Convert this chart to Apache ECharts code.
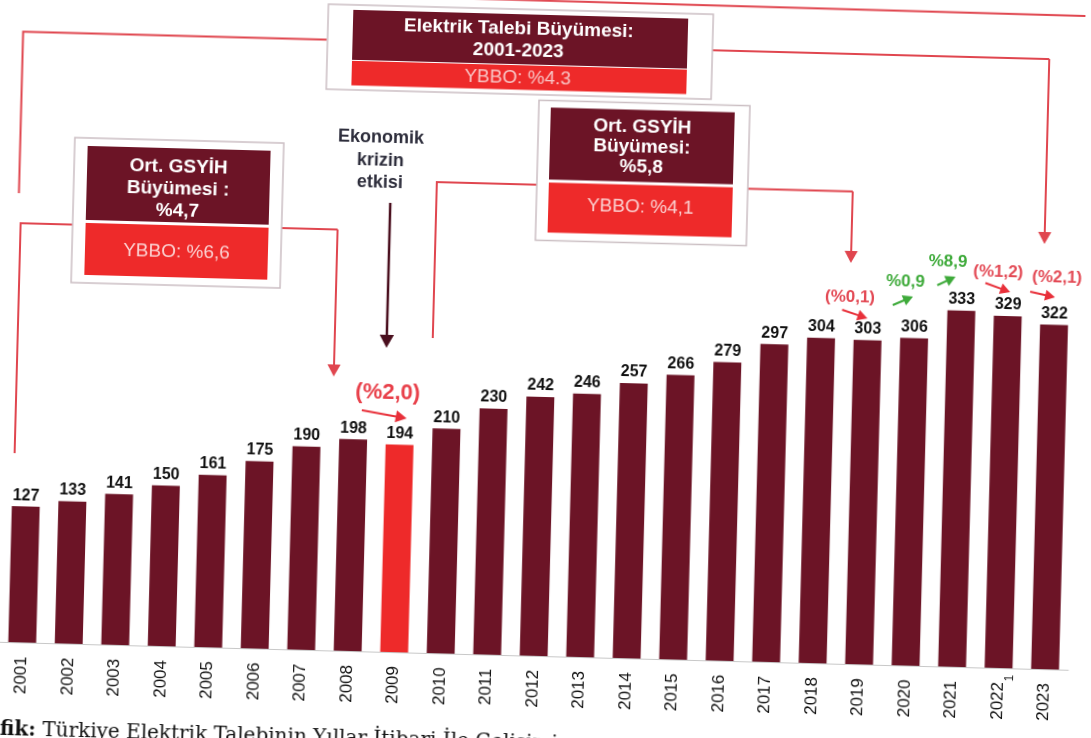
<!DOCTYPE html>
<html>
<head>
<meta charset="utf-8">
<script src="https://cdn.jsdelivr.net/npm/echarts@6/dist/echarts.min.js"></script>
<style>
html,body{margin:0;padding:0;background:#fff;overflow:hidden;width:1091px;height:738px;}
#c{position:absolute;left:-40px;top:-40px;width:1171px;height:818px;transform:rotate(1.5deg);transform-origin:50% 50%;background:#fff;}
</style>
</head>
<body>
<div id="c"></div>
<script>
// ---- data ----
const years = ['2001','2002','2003','2004','2005','2006','2007','2008','2009','2010','2011','2012','2013','2014','2015','2016','2017','2018','2019','2020','2021','2022','2023'];
const demand = [127,133,141,150,161,175,190,198,194,210,230,242,246,257,266,279,297,304,303,306,333,329,322];
const highlightYear = '2009';
const growthNotes = ['(%2,0)','(%0,1)','%0,9','%8,9','(%1,2)','(%2,1)'];
const topBoxLines = ['Elektrik Talebi Büyümesi:','2001-2023','YBBO: %4.3'];
const leftBoxLines = ['Ort. GSYİH','Büyümesi :','%4,7','YBBO: %6,6'];
const midBoxLines = ['Ort. GSYİH','Büyümesi:','%5,8','YBBO: %4,1'];
const crisisLines = ['Ekonomik','krizin','etkisi'];
const captionBold = 'fik:';
const captionText = 'Türkiye Elektrik Talebinin Yıllar İtibari İle Gelişimi';

// ---- styling ----
const OFF = 40;
const SANS = '"Liberation Sans", Arial, sans-serif';
const MAROON = '#6c1426';
const BRIGHT = '#ee2a2a';
const LINE = '#e0464f';
const GREEN = '#3eaa3a';
const PINK = '#e34a55';

const chart = echarts.init(document.getElementById('c'), null, {renderer: 'canvas'});
const g = [];
function P(x, y) { return [x + OFF, y + OFF]; }
function rect(x, y, w, h, fill, stroke) {
  g.push({type: 'rect', shape: {x: x + OFF, y: y + OFF, width: w, height: h},
    style: {fill: fill, stroke: stroke || null, lineWidth: stroke ? 1.5 : 0}});
}
function txt(x, y, s, size, weight, color, family) {
  g.push({type: 'text', x: x + OFF, y: y + OFF,
    style: {text: s, fill: color, fontSize: size, fontWeight: weight, fontFamily: family || SANS,
      align: 'center', verticalAlign: 'middle'}});
}
function poly(pts, color, w) {
  g.push({type: 'polyline', shape: {points: pts.map(p => P(p[0], p[1]))},
    style: {stroke: color, lineWidth: w, fill: null}});
}
function head(tx, ty, dx, dy, size, color) {
  const L = Math.hypot(dx, dy); const ux = dx / L, uy = dy / L;
  const bx = tx - ux * size, by = ty - uy * size;
  const px = -uy * size * 0.55, py = ux * size * 0.55;
  g.push({type: 'polygon', shape: {points: [P(tx, ty), P(bx + px, by + py), P(bx - px, by - py)]},
    style: {fill: color}});
}
function arrow(x1, y1, x2, y2, color, w, size) {
  const L = Math.hypot(x2 - x1, y2 - y1);
  const ex = x2 - (x2 - x1) / L * size * 0.8, ey = y2 - (y2 - y1) / L * size * 0.8;
  poly([[x1, y1], [ex, ey]], color, w);
  head(x2, y2, x2 - x1, y2 - y1, size, color);
}

// connector lines
poly([[300, 0.2], [1076, 2]], LINE, 2);
poly([[318, 45.5], [14.5, 45.5], [14.5, 207]], LINE, 2);
poly([[704, 46], [1041, 46]], LINE, 2);
arrow(1041, 46, 1041, 231, LINE, 2, 12);
poly([[69, 237], [17, 237], [17, 467]], LINE, 2);
poly([[278, 235], [334, 235]], LINE, 2);
arrow(334, 235, 334, 382, LINE, 2, 12);
poly([[532, 185], [432, 185], [432, 341]], LINE, 2);
poly([[743, 183.5], [848, 183.5]], LINE, 2);
arrow(848, 183.5, 848, 255, LINE, 2, 12);
arrow(386, 207, 386, 352, '#4a0f1e', 2.5, 13);

// top box
rect(319, 10, 385, 85, '#fff', '#cbbfc3');
rect(344, 15, 335, 50, MAROON);
rect(344, 66, 335, 24.5, BRIGHT);
txt(510, 30, topBoxLines[0], 19, 'bold', '#fff');
txt(510, 52, topBoxLines[1], 19, 'bold', '#fff');
txt(510, 78.5, topBoxLines[2], 19, 'normal', '#f8c4c4');

// left box
rect(69, 150, 209, 145, '#fff', '#cbbfc3');
rect(82, 158, 183, 74, MAROON);
rect(82, 235, 183, 52, BRIGHT);
txt(173.5, 177, leftBoxLines[0], 19, 'bold', '#fff');
txt(173.5, 199, leftBoxLines[1], 19, 'bold', '#fff');
txt(173.5, 221, leftBoxLines[2], 19, 'bold', '#fff');
txt(173.5, 262, leftBoxLines[3], 19, 'normal', '#fbd0d0');

// middle box
rect(532, 100.5, 211, 140, '#fff', '#cbbfc3');
rect(544, 107.5, 184, 72, MAROON);
rect(544, 182.5, 184, 50, BRIGHT);
txt(636, 124.5, midBoxLines[0], 19, 'bold', '#fff');
txt(636, 144.5, midBoxLines[1], 19, 'bold', '#fff');
txt(636, 164.5, midBoxLines[2], 19, 'bold', '#fff');
txt(636, 205, midBoxLines[3], 19, 'normal', '#fbd0d0');

// crisis note
txt(375, 142, crisisLines[0], 18, 'bold', '#2e2e3c');
txt(375, 165, crisisLines[1], 18, 'bold', '#2e2e3c');
txt(375, 187, crisisLines[2], 18, 'bold', '#2e2e3c');

// growth notes
txt(388.5, 397, growthNotes[0], 22, 'bold', '#e8404a');
arrow(363, 415, 408, 422, '#e8303a', 2, 11);
txt(848, 289, growthNotes[1], 17, 'bold', PINK);
arrow(840.5, 302, 866, 310, '#e8303a', 2, 10);
txt(903, 272.5, growthNotes[2], 17, 'bold', GREEN);
arrow(891, 296, 911, 287, GREEN, 2, 10);
txt(945, 251.5, growthNotes[3], 17, 'bold', GREEN);
arrow(935, 275, 953, 266, GREEN, 2, 10);
txt(995.5, 260, growthNotes[4], 17, 'bold', PINK);
arrow(983, 271.5, 1008, 280, '#e8303a', 2, 10);
txt(1054.5, 264.5, growthNotes[5], 17, 'bold', PINK);
arrow(1028, 279, 1053, 284, '#e8303a', 2, 10);

// footnote mark near 2022
g.push({type: 'text', x: 1018 + OFF, y: 666 + OFF, rotation: Math.PI / 2,
  style: {text: '1', fill: '#222', fontSize: 12, fontFamily: SANS, align: 'center', verticalAlign: 'middle'}});

// caption
g.push({type: 'text', x: 9.5 + OFF, y: 744 + OFF,
  style: {text: captionBold, fill: '#111', fontSize: 20, fontWeight: 'bold', fontFamily: '"DejaVu Serif", serif', align: 'left', verticalAlign: 'middle'}});
g.push({type: 'text', x: 52 + OFF, y: 744 + OFF,
  style: {text: captionText, fill: '#111', fontSize: 20, fontFamily: '"DejaVu Serif", serif', align: 'left', verticalAlign: 'middle'}});

const option = {
  animation: false,
  backgroundColor: '#fff',
  grid: {left: 6.3 + OFF, right: 55, top: 228 + OFF, bottom: 122},
  xAxis: {
    type: 'category', data: years,
    axisLine: {show: true, lineStyle: {color: '#c8c8c8', width: 1}},
    axisTick: {show: false},
    axisLabel: {rotate: 90, interval: 0, fontSize: 17, color: '#111', fontFamily: SANS, margin: 14}
  },
  yAxis: {type: 'value', min: 0, max: 400, show: false, splitLine: {show: false}},
  series: [{
    type: 'bar',
    barWidth: '60%',
    data: demand.map((v, i) => ({value: v, itemStyle: {color: years[i] === highlightYear ? BRIGHT : MAROON}})),
    label: {show: true, position: 'top', distance: 3, fontSize: 16, fontWeight: 'bold', color: '#111', fontFamily: SANS}
  }],
  graphic: g
};
chart.setOption(option);
</script>
</body>
</html>
